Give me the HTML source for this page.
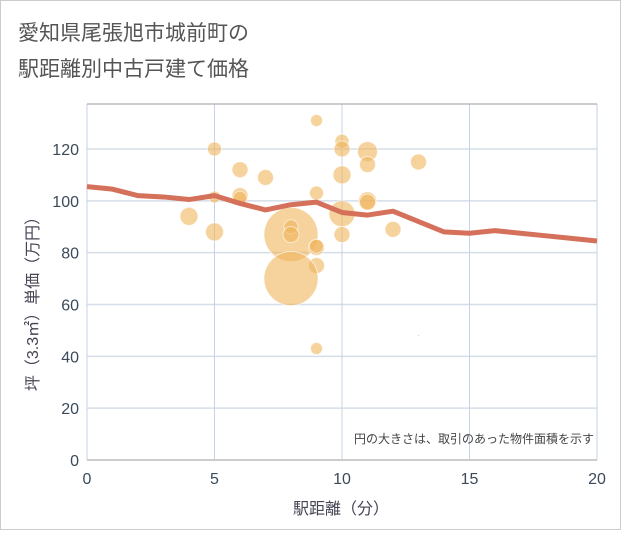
<!DOCTYPE html>
<html><head><meta charset="utf-8"><style>
body{margin:0;background:#fff;}
svg{font-family:"Liberation Sans","Noto Sans CJK JP",sans-serif;}
</style></head><body>
<svg width="621" height="530">
<rect x="0.5" y="0.5" width="620" height="529" fill="#fff" stroke="#ccc"/>
<text x="18" y="40" font-size="21" fill="#555">愛知県尾張旭市城前町の</text>
<text x="18" y="76" font-size="21" fill="#555">駅距離別中古戸建て価格</text>
<g id="grid"></g>
<g id="bubbles"></g>
<g id="line"></g>
<g id="axes"></g>
<text x="594" y="443" font-size="12" fill="#444" text-anchor="end">円の大きさは、取引のあった物件面積を示す</text>
<text x="341" y="514" font-size="16" fill="#445" text-anchor="middle">駅距離（分）</text>
<text transform="translate(38,300) rotate(-90)" font-size="16" fill="#445" text-anchor="middle">坪（3.3㎡）単価（万円）</text>
</svg>
<script>
const xTicks=[0,5,10,15,20];
const yTicks=[0,20,40,60,80,100,120];
const lineX=[0,1,2,3,4,5,6,7,8,9,10,11,12,13,14,15,16,17,18,19,20];
const lineY=[105.5,104.5,102,101.5,100.5,102,99,96.5,98.5,99.5,95.5,94.5,96,92,88,87.5,88.5,87.5,86.5,85.5,84.5];
const bubX=[9,5,10,10,11,6,13,7,11,10,6,6,5,9,11,11,4,10,5,12,8,8,8,9,9,9,8,9,13,10];
const bubY=[131,120,123,120,119,112,115,109,114,110,102,101,101.5,103,100,99.5,94,95,88,89,87,90,87,82,82.5,75,70,43,48,87];
const bubR=[6,7,7,8,10,8,8,8,8,9,8,7,6,7,9,8,9,13,9,8,27,7,8,8,7,8,27,6,1,8];
const NS="http://www.w3.org/2000/svg";
const X0=87,X1=597,Y0=460,YT=104;
const sx=v=>X0+(X1-X0)*v/20;
const sy=v=>Y0-(Y0-149)*v/120;
function mk(t,a,p){const e=document.createElementNS(NS,t);for(const k in a)e.setAttribute(k,a[k]);p.appendChild(e);return e;}
const grid=document.getElementById('grid'),axes=document.getElementById('axes');
yTicks.forEach(v=>{
 const l=mk('line',{x1:X0,x2:X1,y1:sy(v),y2:sy(v),stroke:'#d5dde8','stroke-width':1.5},grid);
 
 
 const t=mk('text',{x:X0-8,y:sy(v)+6,'font-size':16,fill:'#3a4a5a','text-anchor':'end'},axes);
 t.textContent=v;
 
 
});
xTicks.forEach(v=>{
 const l=mk('line',{x1:sx(v),x2:sx(v),y1:YT,y2:Y0,stroke:'#c5d3e6','stroke-width':1},grid);
 
 
 const t=mk('text',{x:sx(v),y:484,'font-size':16,fill:'#3a4a5a','text-anchor':'middle'},axes);
 t.textContent=v;
 
 
});
const plotTop=mk('line',{x1:X0,x2:X1,y1:YT,y2:YT,stroke:'#999'},grid);


const xa=mk('line',{x1:X0,x2:X1,y1:Y0,y2:Y0,stroke:'#ccc','stroke-width':2},axes);


const bg=document.getElementById('bubbles');
bubX.forEach((x,i)=>{
 const c=mk('circle',{cx:sx(x),cy:sy(bubY[i]),r:bubR[i],fill:'rgba(240,180,90,0.6)',stroke:'rgba(255,255,255,0.6)','stroke-width':1},bg);
 
 
});
const p=mk('polyline',{points:lineX.map((x,i)=>sx(x)+','+sy(lineY[i])).join(' '),fill:'none',stroke:'#d5705a','stroke-width':5,'stroke-linejoin':'round'},document.getElementById('line'));


</script>
</body></html>
